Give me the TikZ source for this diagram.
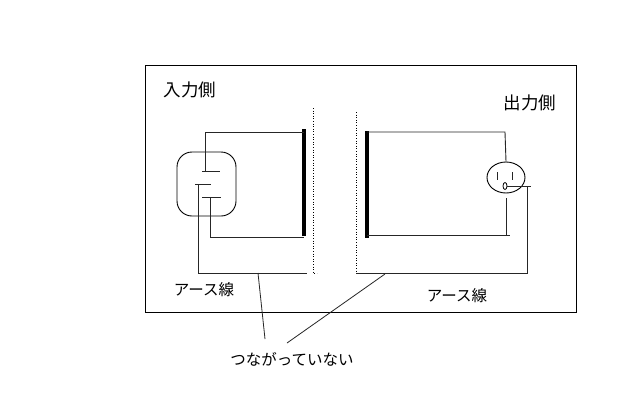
\documentclass[tikz,border=0pt]{standalone}
\usepackage{fontspec}
\usetikzlibrary{shapes.geometric}
\newfontfamily\jp{Noto Sans CJK JP}
\begin{document}
\begin{tikzpicture}[x=1pt,y=-1pt,
  wire/.style={draw=black!85,line width=0.9pt},
  bar/.style={draw=black,line width=3.5pt},
  sep/.style={draw=black,line width=0.6pt,dotted},
  frame/.style={draw=black,line width=0.9pt},
  lbl/.style={font=\jp\fontsize{15.5}{16}\selectfont,inner sep=0pt},
  ttl/.style={font=\jp\fontsize{17.5}{18}\selectfont,inner sep=0pt}]
\useasboundingbox (0,0) rectangle (640,400);
\fill[white] (0,0) rectangle (640,400);
% frame
\draw[frame] (145,65) rectangle (576,312);
% titles
\node[ttl] (in) at (190,90) {入力側};
\node[ttl] (out) at (530,103) {出力側};
\node[lbl] (eL) at (204,290) {アース線};
\node[lbl] (eR) at (457,296) {アース線};
\node[lbl] (nc) at (292,359) {つながっていない};
% separators
\coordinate (sL1) at (313,108); \coordinate (sL2) at (313,273); \coordinate (sL3) at (317,273);
\draw[sep] (sL1) -- (sL2) -- (sL3);
\coordinate (sR1) at (356,112); \coordinate (sR2) at (356,273);
\draw[sep] (sR1) -- (sR2);
% left inlet
\node[draw=black,line width=0.9pt,rounded corners=15pt,minimum width=59pt,minimum height=64pt,inner sep=0pt] (inlet) at (206.5,184) {};
\coordinate (bL1) at (304,129); \coordinate (bL2) at (304,236);
\draw[bar] (bL1) -- (bL2);
\coordinate (pA1) at (202,171); \coordinate (pA2) at (220,171);
\coordinate (pB1) at (195,184); \coordinate (pB2) at (211,184);
\coordinate (pC1) at (202,197); \coordinate (pC2) at (221,197);
\draw[wire] (pA1) -- (pA2);
\draw[wire] (pB1) -- (pB2);
\draw[wire] (pC1) -- (pC2);
\coordinate (tL) at (205,132);
\draw[wire] (205,171) -- (tL) -- (bL1 |- tL);
\coordinate (uL) at (210,237);
\draw[wire] (210,197) -- (uL) -- (bL2 |- uL);
\coordinate (gL) at (198,273); \coordinate (gL2) at (307,273);
\draw[wire] (198,184) -- (gL) -- (gL2);
% right side
\coordinate (bR1) at (367,131); \coordinate (bR2) at (367,238);
\draw[bar] (bR1) -- (bR2);
\node[draw=black,line width=0.9pt,ellipse,minimum width=38pt,minimum height=31pt,inner sep=0pt] (outlet) at (506,177.5) {};
\coordinate (s1a) at (497,172); \coordinate (s1b) at (497,180);
\coordinate (s2a) at (512,172); \coordinate (s2b) at (512,180);
\draw[wire] (s1a) -- (s1b);
\draw[wire] (s2a) -- (s2b);
\node[draw=black,line width=0.8pt,ellipse,minimum width=4pt,minimum height=7pt,inner sep=0pt] (gh) at (505,186) {};
\coordinate (tR) at (505,132);
\draw[wire] (bR1 |- tR) -- (tR) -- (outlet.north);
\coordinate (uR) at (506,235); \coordinate (uR2) at (510,235);
\draw[wire] (506,198) -- (uR);
\draw[wire] (bR2 |- uR) -- (uR2);
\coordinate (gR1) at (531,186); \coordinate (gR) at (527,273);
\draw[wire] (gh.east) -- (gR1);
\draw[wire] (527,186) -- (gR) -- (sR2);
% pointers
\coordinate (p1s) at (265,339); \coordinate (p1e) at (258,273);
\coordinate (p2s) at (287,343); \coordinate (p2e) at (385,274);
\draw[wire,line width=0.8pt] (p1s) -- (p1e);
\draw[wire,line width=0.8pt] (p2s) -- (p2e);
\end{tikzpicture}
\end{document}
